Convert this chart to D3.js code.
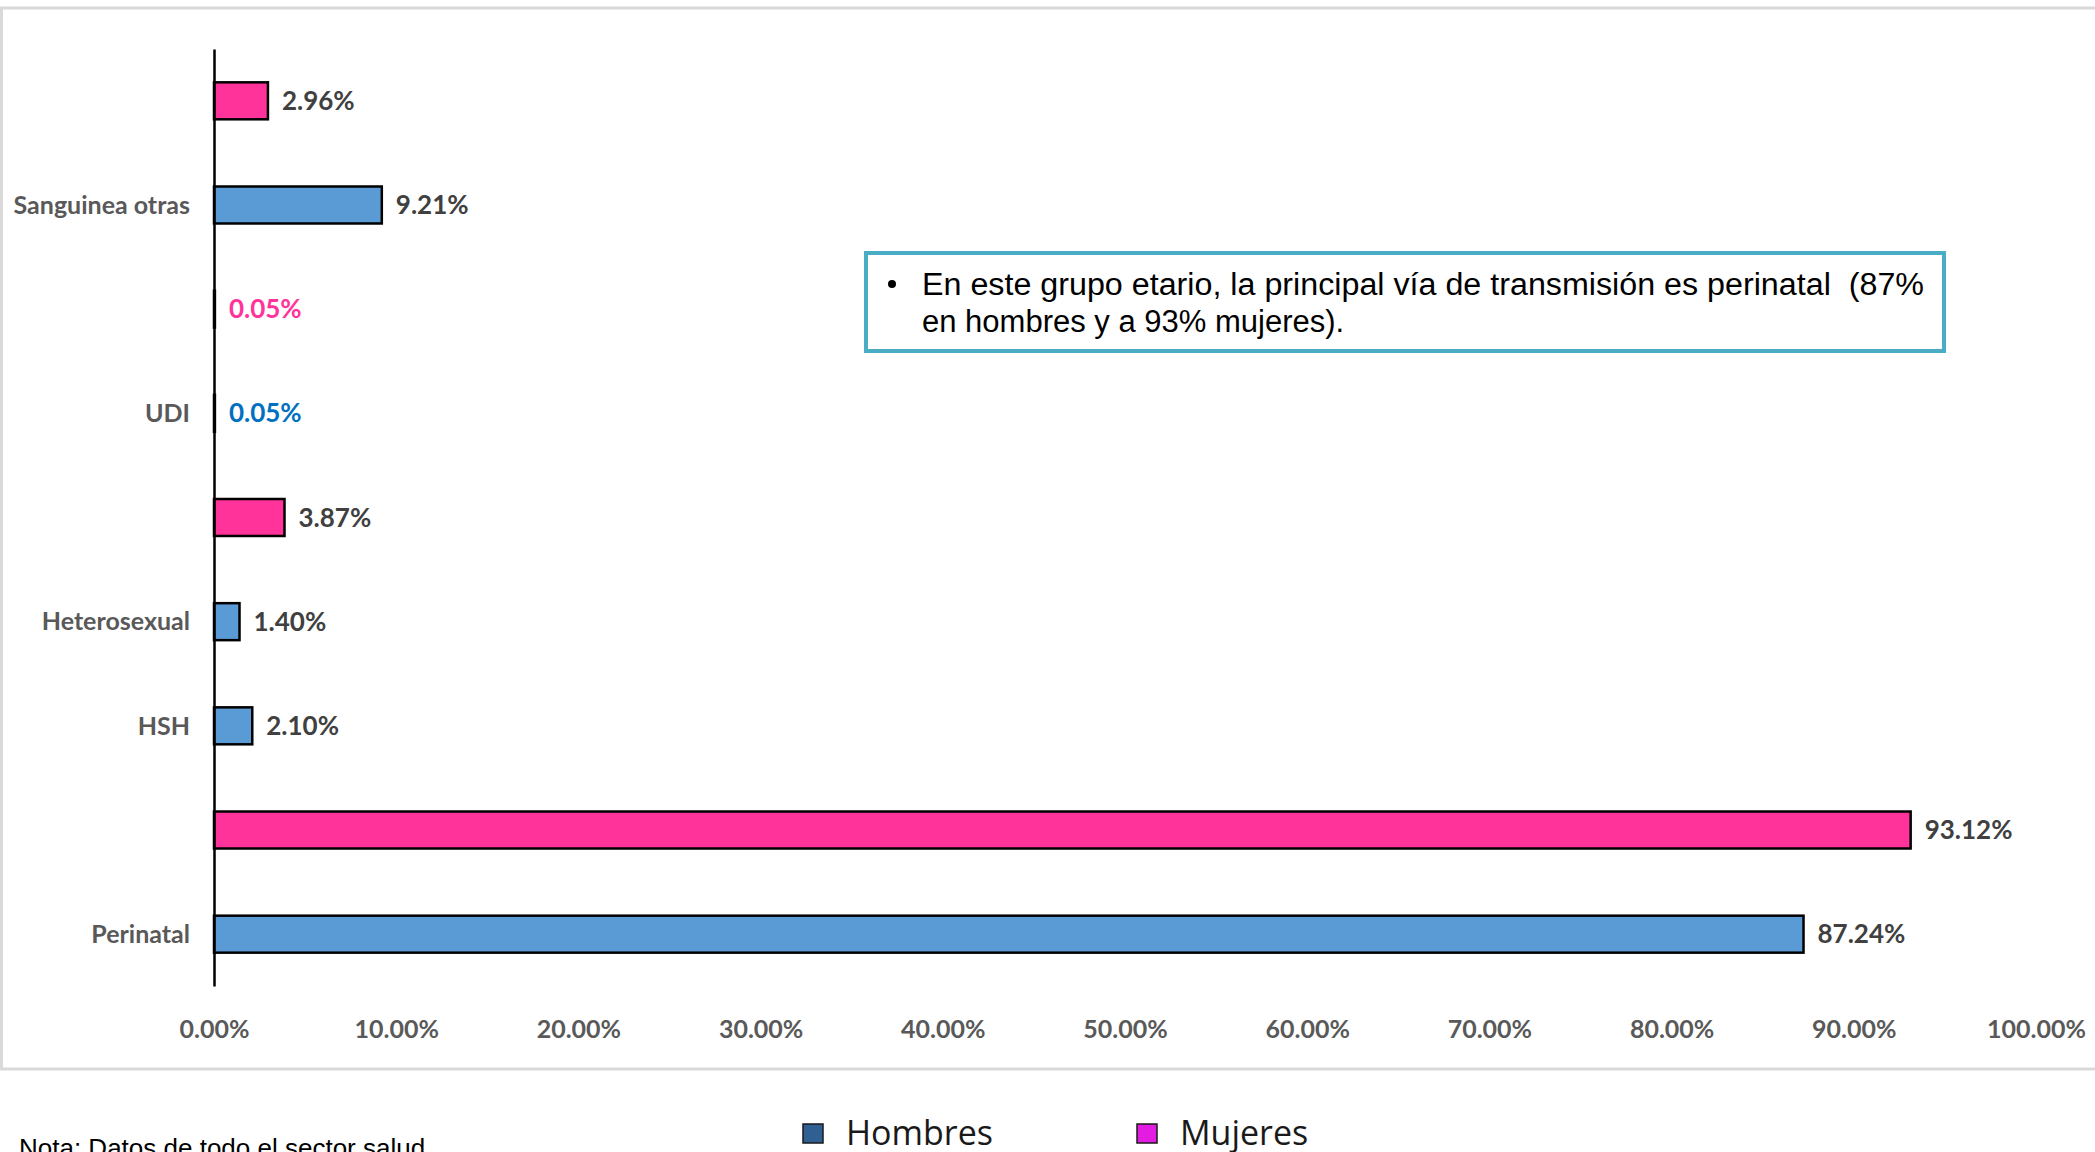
<!DOCTYPE html>
<html>
<head>
<meta charset="utf-8">
<script src="https://cdn.jsdelivr.net/npm/d3@7"></script>
<style>
  body { margin: 0; background: #ffffff; }
  .cat-label, .tick-label, .value-label { font-family: Lato, "DejaVu Sans Condensed", sans-serif; font-weight: bold; }
</style>
</head>
<body>
<div class="vis-holder"></div>
<script>
// categories from bottom to top, as in the original chart
var categories = ["Perinatal", "HSH", "Heterosexual", "UDI", "Sanguinea otras"];
// percentage of cases for men (Hombres)
var hombres = [87.24, 2.10, 1.40, 0.05, 9.21];
// percentage of cases for women (Mujeres), null where there is no bar
var mujeres = [93.12, null, 3.87, 0.05, 2.96];
// x axis tick values
var xTicks = [0, 10, 20, 30, 40, 50, 60, 70, 80, 90, 100];
// legend entries
var seriesNames = ["Hombres", "Mujeres"];
// note in the box
var noteLines = ["En este grupo etario, la principal vía de transmisión es perinatal  (87%", "en hombres y a 93% mujeres)."];
var footNote = "Nota: Datos de todo el sector salud";

horizontal_bar_chart();

function horizontal_bar_chart() {
	var width = 2095;
	var height = 1152;

	var barColor = { Hombres: "#5b9bd5", Mujeres: "#ff3399" };
	var smallLabelColor = { Hombres: "#0070c0", Mujeres: "#ff3399" };
	var legendColor = { Hombres: "#2f5f93", Mujeres: "#e21ce0" };

	// build one row per bar, ordered from top to bottom (women above men in each group)
	var rows = [];
	categories.forEach(function(c, i) {
		rows.unshift({ id: c + "-H", category: c, serie: "Hombres", value: hombres[i], showCat: true });
		if (mujeres[i] !== null) {
			rows.unshift({ id: c + "-M", category: c, serie: "Mujeres", value: mujeres[i], showCat: false });
		}
	});

	var svg = d3.select(".vis-holder")
				.append("svg")
				.attr("width", width)
				.attr("height", height);

	// light grey frame round the plot
	svg.append("rect")
	   .attr("x", 1.5)
	   .attr("y", 8)
	   .attr("width", width + 10)
	   .attr("height", 1061)
	   .attr("fill", "none")
	   .attr("stroke", "#d9d9d9")
	   .attr("stroke-width", 3);

	var xScale = d3.scaleLinear()
				   .domain([0, 100])
				   .range([214, 2036]);

	var yScale = d3.scaleBand()
				   .domain(rows.map(function(d) { return d.id; }))
				   .range([49, 986])
				   .paddingInner(0.645)
				   .paddingOuter(0.32);

	// x axis: only the labels are visible
	var xAxis = svg.append("g")
				   .attr("transform", "translate(0, 1029)")
				   .call(d3.axisBottom(xScale).tickValues(xTicks).tickSize(0).tickFormat(function(d) { return d.toFixed(2) + "%"; }));
	xAxis.select(".domain").remove();
	xAxis.selectAll("text")
		 .attr("class", "tick-label")
		 .attr("y", 0)
		 .attr("dy", "0.35em")
		 .attr("fill", "#595959")
		 .style("font-size", "25px");

	// bars
	svg.append("g")
	   .selectAll("rect")
	   .data(rows)
	   .enter()
	   .append("rect")
	   .attr("x", xScale(0))
	   .attr("y", function(d) { return yScale(d.id); })
	   .attr("width", function(d) { return xScale(d.value) - xScale(0); })
	   .attr("height", yScale.bandwidth())
	   .attr("fill", function(d) { return barColor[d.serie]; })
	   .attr("stroke", "#000000")
	   .attr("stroke-width", 2.5);

	// vertical axis line
	var yAxis = svg.append("g")
				   .attr("transform", "translate(" + xScale(0) + ", 0)")
				   .call(d3.axisLeft(yScale).tickSize(0).tickFormat(""));
	yAxis.select(".domain")
		 .attr("stroke", "#000000")
		 .attr("stroke-width", 2.5);

	// value labels at the end of each bar
	svg.append("g")
	   .selectAll("text")
	   .data(rows)
	   .enter()
	   .append("text")
	   .attr("class", "value-label")
	   .attr("x", function(d) { return xScale(d.value) + 14; })
	   .attr("y", function(d) { return yScale(d.id) + yScale.bandwidth() / 2; })
	   .attr("dy", "0.35em")
	   .attr("fill", function(d) { return d.value < 0.1 ? smallLabelColor[d.serie] : "#404040"; })
	   .style("font-size", "26px")
	   .text(function(d) { return d.value.toFixed(2) + "%"; });

	// category labels next to the men's bar
	svg.append("g")
	   .selectAll("text")
	   .data(rows.filter(function(d) { return d.showCat; }))
	   .enter()
	   .append("text")
	   .attr("class", "cat-label")
	   .attr("x", 190)
	   .attr("y", function(d) { return yScale(d.id) + yScale.bandwidth() / 2; })
	   .attr("dy", "0.35em")
	   .attr("text-anchor", "end")
	   .attr("fill", "#595959")
	   .style("font-size", "25px")
	   .text(function(d) { return d.category; });

	// annotation box
	var note = svg.append("g");
	note.append("rect")
		.attr("x", 866)
		.attr("y", 253)
		.attr("width", 1078)
		.attr("height", 98)
		.attr("fill", "#ffffff")
		.attr("stroke", "#4bacc6")
		.attr("stroke-width", 4);
	note.append("circle")
		.attr("cx", 892)
		.attr("cy", 284)
		.attr("r", 4)
		.attr("fill", "#000000");
	note.selectAll("text.note")
		.data(noteLines)
		.enter()
		.append("text")
		.attr("class", "note")
		.attr("x", 922)
		.attr("y", function(d, i) { return 295 + i * 37; })
		.attr("textLength", function(d, i) { return i === 0 ? 1002 : null; })
		.attr("lengthAdjust", "spacingAndGlyphs")
		.style("white-space", "pre")
		.style("font-family", "'Liberation Sans', Arial, sans-serif")
		.style("font-size", "31px")
		.attr("fill", "#000000")
		.text(function(d) { return d; });

	// legend below the plot
	var legendX = [803, 1137];
	var legend = svg.append("g")
					.selectAll("g")
					.data(seriesNames)
					.enter()
					.append("g")
					.attr("transform", function(d, i) { return "translate(" + legendX[i] + ", 1133)"; });
	legend.append("rect")
		  .attr("x", 0)
		  .attr("y", -9)
		  .attr("width", 20)
		  .attr("height", 19)
		  .attr("fill", function(d) { return legendColor[d]; })
		  .attr("stroke", "#1a1a1a")
		  .attr("stroke-width", 1.5);
	legend.append("text")
		  .attr("x", 43)
		  .attr("y", 0)
		  .attr("dy", "0.35em")
		  .style("font-family", "'Open Sans', 'Noto Sans', sans-serif")
		  .style("font-size", "34px")
		  .attr("fill", "#1a1a1a")
		  .text(function(d) { return d; });

	// footnote, partly cut by the bottom edge
	svg.append("text")
	   .attr("x", 19)
	   .attr("y", 1157)
	   .style("font-family", "'Liberation Sans', Arial, sans-serif")
	   .style("font-size", "26px")
	   .attr("fill", "#000000")
	   .text(footNote);
}
</script>
</body>
</html>
